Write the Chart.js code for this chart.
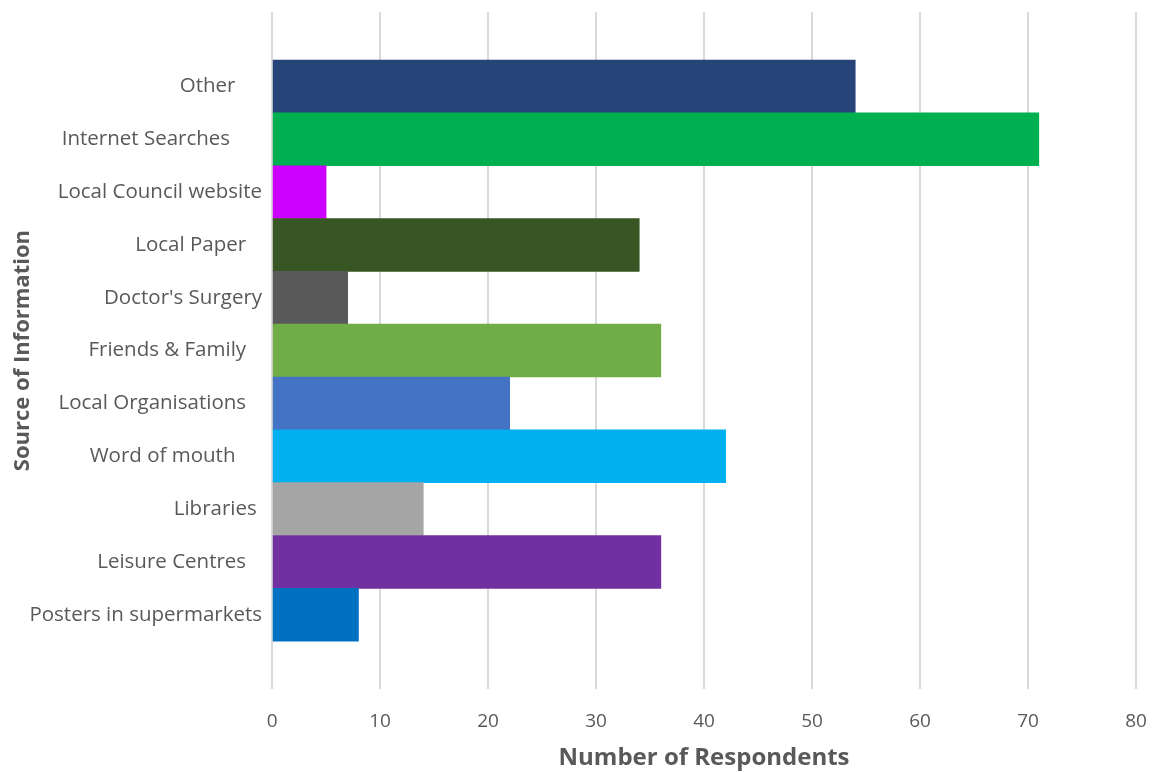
<!DOCTYPE html>
<html>
<head>
<meta charset="utf-8">
<script src="https://cdn.jsdelivr.net/npm/chart.js@4/dist/chart.umd.min.js"></script>
<style>
html,body{margin:0;padding:0;background:#fff;}
#wrap{position:relative;width:1153px;height:772px;}
</style>
</head>
<body>
<div id="wrap"><canvas id="c" width="1153" height="772"></canvas></div>
<script>
const categories = [
  "Other     ",
  "Internet Searches      ",
  "Local Council website",
  "Local Paper   ",
  "Doctor's Surgery",
  "Friends & Family   ",
  "Local Organisations   ",
  "Word of mouth     ",
  "Libraries ",
  "Leisure Centres   ",
  "Posters in supermarkets"
];
const respondents = [54, 71, 5, 34, 7, 36, 22, 42, 14, 36, 8];
const barColors = ["#264478", "#00B050", "#CC00FF", "#375623", "#595959", "#70AD47", "#4472C4", "#00B0F0", "#A5A5A5", "#7030A0", "#0070C0"];
const xTicks = [0, 10, 20, 30, 40, 50, 60, 70, 80];
const xTitle = "Number of Respondents";
const yTitle = "Source of Information";

const FONT = "'Open Sans', sans-serif";
const GREY = "#595959";
const Y_MIN = -1.41, Y_MAX = 11.41;

new Chart(document.getElementById('c'), {
  type: 'bar',
  data: {
    datasets: [{
      data: respondents.map((v, i) => ({ x: v, y: i })),
      backgroundColor: barColors,
      borderWidth: 0,
      barPercentage: 1.0,
      categoryPercentage: 1.0
    }]
  },
  options: {
    indexAxis: 'y',
    responsive: false,
    animation: false,
    layout: { padding: { left: 9, right: 17, top: 12, bottom: -1 } },
    plugins: { legend: { display: false }, tooltip: { enabled: false } },
    scales: {
      x: {
        type: 'linear',
        min: xTicks[0],
        max: xTicks[xTicks.length - 1],
        afterBuildTicks: s => { s.ticks = xTicks.map(v => ({ value: v })); },
        afterFit: s => { s.paddingLeft = 0; s.paddingRight = 0; },
        grid: { color: '#d9d9d9', lineWidth: 2, drawTicks: false },
        border: { display: false },
        ticks: { color: GREY, font: { family: FONT, size: 19 }, padding: 20.6 },
        title: { display: true, text: xTitle, color: GREY, font: { family: FONT, size: 24, weight: 'bold' }, padding: { top: -9, bottom: 0 } }
      },
      y: {
        type: 'linear',
        reverse: true,
        offset: false,
        bounds: 'data',
        min: Y_MIN,
        max: Y_MAX,
        afterBuildTicks: s => {
          s.ticks = categories.map((_, i) => ({ value: i }));
          s.min = Y_MIN; s.max = Y_MAX;
        },
        afterFit: s => { s.paddingTop = 0; s.paddingBottom = 0; },
        grid: { display: false, drawTicks: false, offset: false },
        border: { display: false },
        ticks: { color: GREY, font: { family: FONT, size: 20.5 }, padding: 10, autoSkip: false,
                 callback: v => categories[v] },
        title: { display: true, text: yTitle, color: GREY, font: { family: FONT, size: 22, weight: 'bold' }, padding: { top: 1, bottom: -17 } }
      }
    }
  }
});
</script>
</body>
</html>
